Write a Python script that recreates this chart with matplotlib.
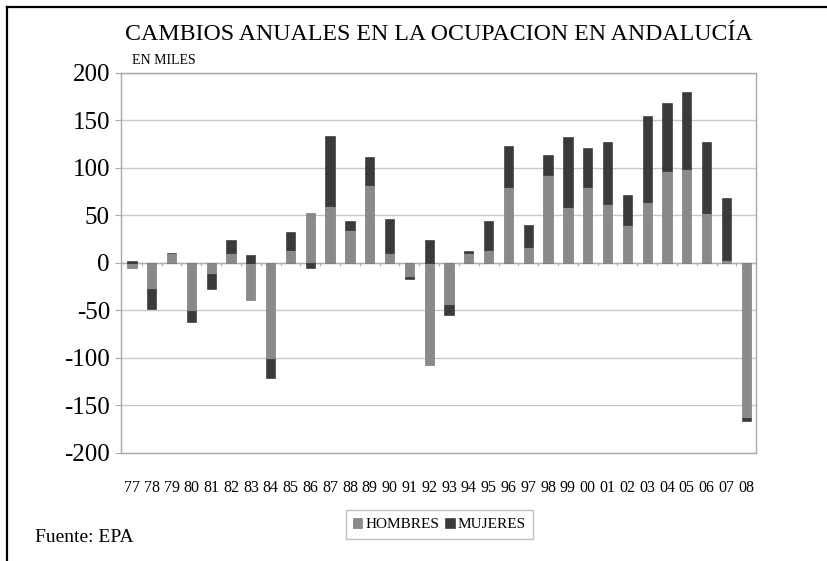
import numpy as np
import matplotlib
matplotlib.use("Agg")
import matplotlib.pyplot as plt
from matplotlib.lines import Line2D

# datos (miles)
years = ['77', '78', '79', '80', '81', '82', '83', '84', '85', '86', '87', '88', '89', '90', '91', '92',
         '93', '94', '95', '96', '97', '98', '99', '00', '01', '02', '03', '04', '05', '06', '07', '08']
hombres = [-6, -28, 10, -51, -12, 10, -39, -101, 13, 52, 60, 34, 82, 10, -15, -108,
           -45, 10, 13, 80, 17, 92, 59, 80, 62, 40, 64, 97, 99, 52, 3, -163]
mujeres = [2, -21, 0, -11, -16, 14, 8, -20, 19, -6, 73, 10, 29, 36, -2, 24,
           -10, 2, 31, 43, 23, 21, 73, 41, 65, 31, 90, 71, 81, 75, 65, -4]

c_h = '#8a8a8a'
c_m = '#3a3a3a'
serif = ['Liberation Serif', 'DejaVu Serif']
plt.rcParams['font.family'] = serif
plt.rcParams['axes.unicode_minus'] = False

fig = plt.figure(figsize=(8.27, 5.61), dpi=100)
ax = fig.add_axes([121 / 827, 1 - 452.7 / 561, (756 - 121) / 827, (452.7 - 72.7) / 561])

x = np.arange(len(years))
h = np.array(hombres, dtype=float)
m = np.array(mujeres, dtype=float)
w = 0.47

# apilado tipo Excel: positivos hacia arriba, negativos hacia abajo
h_pos = np.where(h > 0, h, 0)
h_neg = np.where(h < 0, h, 0)
ax.bar(x, h, w, color=c_h, edgecolor='#6a6a6a', linewidth=0.4, label='HOMBRES', zorder=3)
m_bottom = np.where(m >= 0, h_pos, h_neg)
ax.bar(x, m, w, bottom=m_bottom, color=c_m, edgecolor='#2a2a2a', linewidth=0.4, label='MUJERES', zorder=3)

ax.set_xlim(-0.55, 31.49)
ax.set_ylim(-200, 200)
ax.set_yticks(np.arange(-200, 201, 50))
ax.yaxis.grid(True, color='#c8c8c8', linewidth=1.0, zorder=0)
ax.set_axisbelow(True)

# eje en cero con marcas entre categorias
ax.axhline(0, color='#b0b0b0', linewidth=1.0, zorder=2)
ax.vlines(np.arange(len(years)) + 0.5, -3, 0, color='#b0b0b0', linewidth=0.8, zorder=2)

for s in ax.spines.values():
    s.set_color('#a8a8a8')
    s.set_linewidth(1.0)

ax.set_xticks(x)
ax.set_xticklabels(years, fontsize=11.5)
ax.tick_params(axis='x', length=0, pad=20)
ax.tick_params(axis='y', length=4, color='#a8a8a8', labelsize=18, pad=4)

fig.text(0.531, 1 - 35 / 561, 'CAMBIOS ANUALES EN LA OCUPACION EN ANDALUCÍA',
         ha='center', va='center', fontsize=17.2)
fig.text(131.5 / 827, 1 - 60 / 561, 'EN MILES', ha='left', va='center', fontsize=10)
fig.text(35 / 827, 1 - 537 / 561, 'Fuente: EPA', ha='left', va='center', fontsize=14)

leg = fig.legend(loc='center', bbox_to_anchor=(439.5 / 827, 1 - 524.5 / 561), ncol=2,
                 fontsize=11, frameon=True, fancybox=False, handlelength=0.6, handleheight=0.6,
                 handletextpad=0.2, columnspacing=0.4, borderpad=0.5)
leg.get_frame().set_edgecolor('#b0b0b0')
leg.get_frame().set_linewidth(1.0)

# marco de la imagen (arriba e izquierda)
fig.add_artist(Line2D([6.5 / 827, 1], [1 - 6.5 / 561, 1 - 6.5 / 561], color='black', linewidth=1.6,
                      transform=fig.transFigure))
fig.add_artist(Line2D([6.5 / 827, 6.5 / 827], [0, 1 - 6.5 / 561], color='black', linewidth=1.6,
                      transform=fig.transFigure))

fig.savefig('out.png', dpi=100)
